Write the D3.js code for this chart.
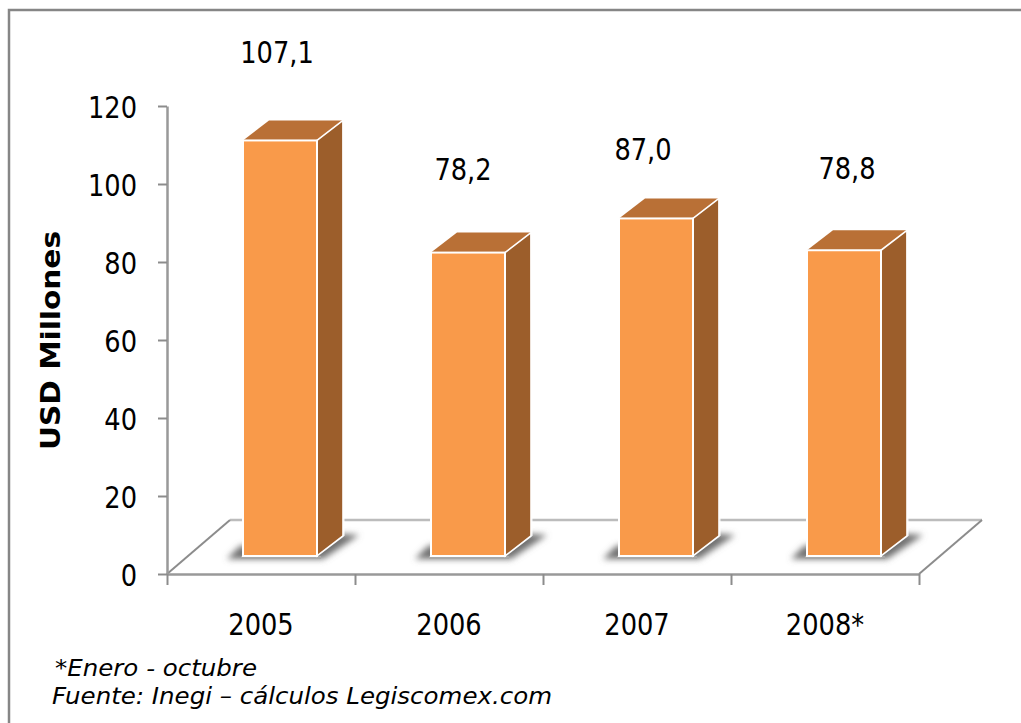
<!DOCTYPE html>
<html><head><meta charset="utf-8">
<script src="https://cdn.jsdelivr.net/npm/d3@7/dist/d3.min.js"></script>
<style>html,body{margin:0;padding:0;background:#fff;overflow:hidden}svg{display:block}text{font-family:"DejaVu Sans";fill:#000}</style>
</head><body><div id="c"></div>
<script>
const categories = ["2005","2006","2007","2008*"];
const values = [107.1,78.2,87.0,78.8];
const valueLabels = ["107,1","78,2","87,0","78,8"];
const yTicks = [0,20,40,60,80,100,120];
const yTitle = "USD Millones";
const notes = ["*Enero - octubre","Fuente: Inegi – cálculos Legiscomex.com"];

const W=1021,H=723;
const axisX0=167,axisX1=919,axisY0=574,axisY1=106;
const floorDX=63,floorDY=54,depthDX=26,depthDY=20;
const barBase=556,barLeft=76,barW=74;
const glyphSX=0.83;
const labelNudge=[[-3,-77],[-5,-73],[-13,-58],[3,-71]];

const svg=d3.select("#c").append("svg").attr("width",W).attr("height",H);
svg.append("rect").attr("width",W).attr("height",H).attr("fill","#fff");
const defs=svg.append("defs");
defs.append("filter").attr("id","blur").attr("x","-30%").attr("y","-30%").attr("width","160%").attr("height","160%")
  .append("feGaussianBlur").attr("stdDeviation",3);

// frame
svg.append("path").attr("d",`M9,${H}V10H${W}`).attr("fill","none").attr("stroke","#868686").attr("stroke-width",2.5);

const x=d3.scaleBand().domain(categories).range([axisX0,axisX1]);
const xEdge=d3.scaleLinear().domain([0,categories.length]).range([axisX0,axisX1]);
const y=d3.scaleLinear().domain([0,120]).range([axisY0,axisY1]);
const yBar=d3.scaleLinear().domain([0,120]).range([barBase,barBase-120*3.88]);

// floor
const floor=svg.append("g").attr("fill","none");
floor.append("line").attr("x1",axisX0+floorDX).attr("x2",axisX1+floorDX).attr("y1",axisY0-floorDY).attr("y2",axisY0-floorDY).attr("stroke","#bcbcbc").attr("stroke-width",2.5);
[axisX0,axisX1].forEach(px=>floor.append("line").attr("x1",px).attr("y1",axisY0).attr("x2",px+floorDX).attr("y2",axisY0-floorDY).attr("stroke","#8c8c8c").attr("stroke-width",2));

// axes
const yAxis=svg.append("g").attr("transform",`translate(${axisX0},0)`).call(d3.axisLeft(y).tickValues(yTicks).tickSize(9).tickSizeOuter(0));
yAxis.selectAll("text").attr("x",null).attr("dy","0.36em").attr("font-size",31).attr("font-family","DejaVu Sans").attr("transform",`translate(-30,0) scale(${glyphSX},1)`);
const xTicks=svg.append("g").attr("transform",`translate(0,${axisY0})`).call(d3.axisBottom(xEdge).ticks(categories.length).tickFormat("").tickSize(11).tickSizeOuter(0));
const xLabels=svg.append("g").attr("transform",`translate(0,${axisY0})`).call(d3.axisBottom(x).tickSize(0));
xLabels.select(".domain").remove();
xLabels.selectAll("text").attr("y",null).attr("dy",null).attr("font-size",31).attr("font-family","DejaVu Sans").attr("transform",`translate(0,61) scale(${glyphSX},1)`);
[yAxis,xTicks].forEach(g=>{g.selectAll(".domain").attr("stroke","#999").attr("stroke-width",2.5);g.selectAll(".tick line").attr("stroke","#8c8c8c").attr("stroke-width",2);});

// bars
const pts=a=>a.map(p=>p.join(",")).join(" ");
const bars=svg.append("g").selectAll("g").data(categories).join("g");
bars.each(function(c,i){
  const g=d3.select(this);
  const l=x(c)+barLeft,r=l+barW,t=yBar(values[i]),b=barBase;
  g.append("polygon").attr("points",pts([[l-16,b+3],[l-3,b-10],[r+depthDX,b-depthDY-2],[r+depthDX+16,b-depthDY-1],[r+6,b+3]])).attr("fill","#6f6f6f").attr("filter","url(#blur)");
  g.append("rect").attr("x",l-2).attr("y",b).attr("width",barW+6).attr("height",3).attr("fill","#a8a8a8");
  g.append("polygon").attr("points",pts([[l,t],[l+depthDX,t-depthDY],[r+depthDX,t-depthDY],[r,t]])).attr("fill","#b97036");
  g.append("polygon").attr("points",pts([[r,t],[r+depthDX,t-depthDY],[r+depthDX,b-depthDY],[r,b]])).attr("fill","#9c5e2b").attr("stroke","#fff").attr("stroke-width",1.6);
  g.append("rect").attr("x",l).attr("y",t).attr("width",barW).attr("height",b-t).attr("fill","#f99a4a").attr("stroke","#fff").attr("stroke-width",2);
  g.append("line").attr("x1",r+depthDX).attr("x2",r+depthDX+1).attr("y1",t-depthDY).attr("y2",b-depthDY).attr("stroke","#fff").attr("stroke-width",1);
  g.append("text").attr("text-anchor","middle").attr("font-size",31)
    .attr("transform",`translate(${l+barW/2+labelNudge[i][0]},${t+labelNudge[i][1]}) scale(${glyphSX},1)`).text(valueLabels[i]);
});

// axis title
svg.append("text").attr("transform","translate(60,450) rotate(-90)").attr("font-size",26).attr("font-weight","bold").attr("textLength",219).attr("lengthAdjust","spacingAndGlyphs").text(yTitle);

// notes
svg.selectAll(".note").data(notes).join("text").attr("class","note")
  .attr("x",(d,i)=>i?52:55).attr("y",(d,i)=>i?704:676)
  .attr("font-size",23).attr("font-style","italic")
  .attr("textLength",(d,i)=>i?500:202).attr("lengthAdjust","spacingAndGlyphs").text(d=>d);
</script></body></html>
